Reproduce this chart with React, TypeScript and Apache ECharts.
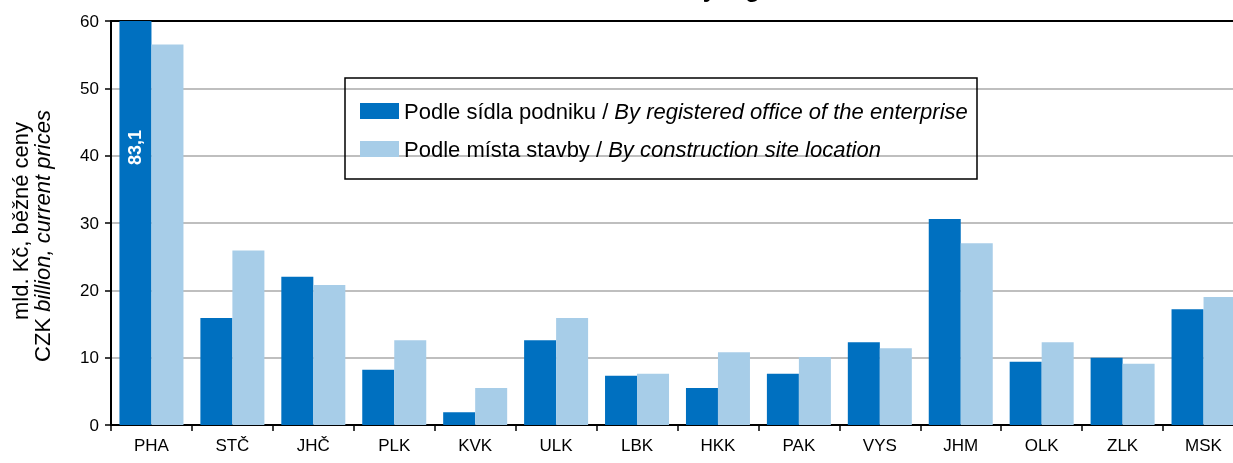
import React, { useEffect, useRef } from "react";
import * as echarts from "echarts";

const categories = ["PHA", "STČ", "JHČ", "PLK", "KVK", "ULK", "LBK", "HKK", "PAK", "VYS", "JHM", "OLK", "ZLK", "MSK"];
const seriesNames = [
  "Podle sídla podniku / By registered office of the enterprise",
  "Podle místa stavby / By construction site location",
];
const byOffice = [83.1, 15.9, 22.0, 8.2, 1.9, 12.6, 7.3, 5.5, 7.6, 12.3, 30.6, 9.4, 10.0, 17.2];
const bySite = [56.5, 25.9, 20.8, 12.6, 5.5, 15.9, 7.6, 10.8, 10.1, 11.4, 27.0, 12.3, 9.1, 19.0];
const yTicks = { min: 0, max: 60, interval: 10 };
const yNameLine1 = "mld. Kč, běžné ceny";
const yNameLine2a = "CZK ";
const yNameLine2b = "billion, current prices";

const FONT = "'Liberation Sans', Arial, sans-serif";
const DARK = "#0070C0";
const LIGHT = "#A7CDE8";

export default function App() {
  const ref = useRef<HTMLDivElement>(null);
  useEffect(() => {
    if (!ref.current) return;
    const chart = echarts.init(ref.current, null, { renderer: "svg" });
    const officeData = byOffice.map((v, i) =>
      i === 0
        ? {
            value: v,
            label: {
              show: true,
              position: "insideBottom",
              distance: 260,
              rotate: 90,
              align: "left",
              verticalAlign: "middle",
              color: "#fff",
              fontWeight: "bold",
              fontSize: 18,
              fontFamily: FONT,
              formatter: (p: any) => String(p.value).replace(".", ","),
            },
          }
        : v
    );
    chart.setOption({
      animation: false,
      textStyle: { fontFamily: FONT },
      grid: {
        left: 111,
        top: 21,
        right: -11,
        bottom: 38,
        containLabel: false,
        outerBoundsMode: "none",
      },
      graphic: [
        {
          type: "rect",
          shape: { x: 345, y: 78, width: 632, height: 101 },
          style: { fill: "none", stroke: "#000", lineWidth: 1.5 },
          z: 10,
        },
        {
          type: "text",
          x: 688,
          y: 0,
          style: {
            text: "by regions",
            fontSize: 24,
            fontWeight: "bold",
            fontFamily: FONT,
            fill: "#000",
            verticalAlign: "bottom",
          },
        },
        {
          type: "text",
          x: 20,
          y: 221,
          rotation: Math.PI / 2,
          style: {
            text: yNameLine1,
            fontSize: 22,
            fontFamily: FONT,
            fill: "#000",
            align: "center",
            verticalAlign: "middle",
          },
        },
        {
          type: "text",
          x: 42,
          y: 236,
          rotation: Math.PI / 2,
          style: {
            text: `{c|${yNameLine2a}}{b|${yNameLine2b}}`,
            fontSize: 22,
            fontFamily: FONT,
            fill: "#000",
            align: "center",
            verticalAlign: "middle",
            rich: {
              c: { fontSize: 22, fontFamily: FONT, fill: "#000" },
              b: { fontSize: 22, fontFamily: FONT, fill: "#000", fontStyle: "italic" },
            },
          },
        },
      ],
      legend: {
        orient: "vertical",
        left: 355,
        top: 94,
        itemWidth: 39,
        itemHeight: 16,
        itemGap: 14,
        icon: "rect",
        selectedMode: false,
        data: seriesNames,
        textStyle: {
          fontSize: 22,
          color: "#000",
          fontFamily: FONT,
          lineHeight: 24,
          rich: {
            n: { fontSize: 22, color: "#000", fontFamily: FONT, lineHeight: 24 },
            i: { fontSize: 22, color: "#000", fontFamily: FONT, fontStyle: "italic", lineHeight: 24 },
          },
        },
        formatter: (name: string) => {
          const [a, b] = name.split(" / ");
          return `{n|${a} / }{i|${b}}`;
        },
      },
      xAxis: [
        {
          type: "category",
          data: categories,
          position: "bottom",
          axisLine: { show: true, lineStyle: { color: "#000", width: 2 } },
          axisTick: { show: true, length: 6, lineStyle: { color: "#000", width: 1.5 } },
          axisLabel: { fontSize: 17, color: "#000", margin: 12, fontFamily: FONT },
        },
        {
          type: "category",
          data: categories,
          position: "top",
          axisLine: { show: true, lineStyle: { color: "#000", width: 2 } },
          axisTick: { show: false },
          axisLabel: { show: false },
        },
      ],
      yAxis: {
        type: "value",
        min: yTicks.min,
        max: yTicks.max,
        interval: yTicks.interval,
        axisLine: { show: true, lineStyle: { color: "#000", width: 2 } },
        axisTick: { show: true, length: 6, lineStyle: { color: "#000", width: 1.5 } },
        axisLabel: { fontSize: 17, color: "#000", margin: 12, fontFamily: FONT },
        splitLine: { show: true, lineStyle: { color: "#BFBFBF", width: 2 } },
      },
      series: [
        {
          name: seriesNames[0],
          type: "bar",
          data: officeData,
          barWidth: 32,
          barGap: "0%",
          clip: true,
          itemStyle: { color: DARK },
        },
        {
          name: seriesNames[1],
          type: "bar",
          data: bySite,
          barWidth: 32,
          barGap: "0%",
          clip: true,
          itemStyle: { color: LIGHT },
        },
      ],
    });
    return () => chart.dispose();
  }, []);
  return <div ref={ref} style={{ position: "fixed", left: 0, top: 0, width: 1233, height: 463 }} />;
}
